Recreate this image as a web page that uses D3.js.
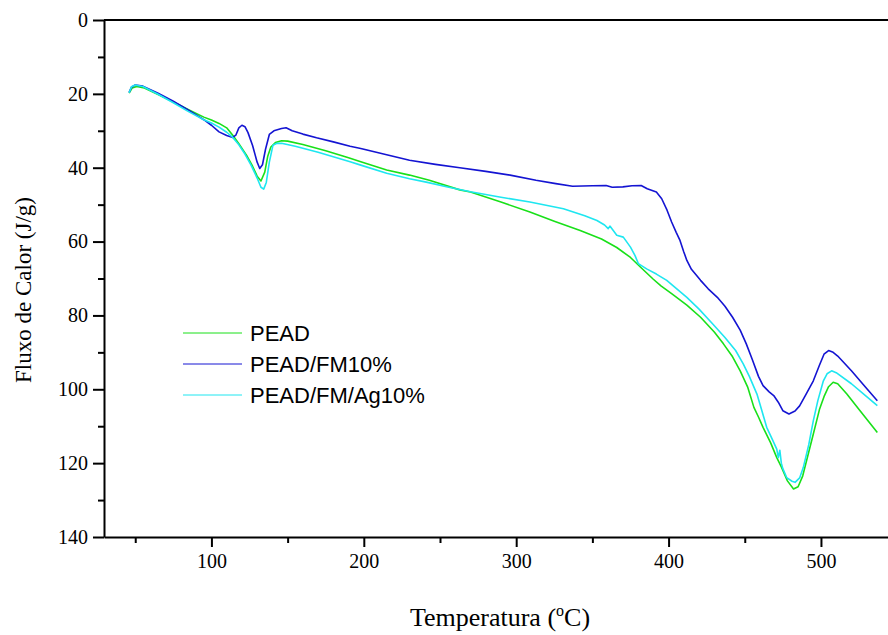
<!DOCTYPE html>
<html>
<head>
<meta charset="utf-8">
<script src="https://cdn.jsdelivr.net/npm/d3@7"></script>
<style>
  body { margin: 0; background: #fff; }
  svg { display: block; }
</style>
</head>
<body>
<svg id="chart" width="888" height="635"></svg>
<script>
// [temperature °C, heat flow J/g]
const peadData = [
  [46,19.8],[48,18.4],[51,18.0],[56,18.4],[65,20.2],[75,22.2],[85,24.3],[95,26.3],[100,27.1],
  [105,28.0],[110,29.2],[114,31.2],[118,33.5],[123,36.6],[127,39.6],[130,42.3],[132.5,43.6],
  [135,41.2],[137,36.8],[139,34.4],[142,33.2],[146,32.7],[150,32.8],[160,33.7],[175,35.4],
  [190,37.3],[198,38.4],[215,40.6],[230,42.0],[243,43.4],[263,46.0],[270,46.6],[290,49.3],
  [309,52.0],[325,54.5],[342,57.0],[356,59.3],[366,61.6],[375,64.3],[382,67.1],[390,70.2],
  [395,72.0],[402,74.1],[412,77.2],[421,80.5],[430,84.5],[436,87.7],[442,91.2],[447,95.0],
  [452,99.5],[456,104.9],[459,107.5],[462,110.3],[467,114.5],[471,118.5],[474,121.0],
  [478,124.8],[482,127.0],[485,126.4],[488,123.5],[492,117.0],[495,112.1],[499,105.5],
  [502,102.0],[505,99.3],[508,98.1],[511,98.5],[517,101.3],[525,105.5],[537,111.7]
];

const peadFmData = [
  [46,19.6],[47.5,18.2],[50,17.6],[55,17.9],[65,19.8],[75,22.0],[85,24.4],[95,27.0],[100,28.5],
  [105,30.3],[110,31.3],[114,31.8],[116,31.2],[118,29.2],[120,28.5],[122,28.9],[124,30.5],
  [127,34.0],[130,38.5],[131.7,40.2],[133.5,39.2],[135.5,35.0],[138,31.0],[141,30.0],[146,29.4],
  [149,29.2],[153,30.0],[160,30.9],[169,31.9],[180,33.0],[191,34.2],[198,34.8],[215,36.5],
  [230,38.0],[247,39.1],[263,40.0],[280,41.0],[296,42.0],[313,43.4],[326,44.3],[337,45.0],
  [350,44.9],[359,44.8],[363,45.3],[370,45.2],[376,44.9],[382,44.8],[386,45.7],[392,46.6],
  [395.5,48.4],[399,51.5],[402,54.7],[405,57.5],[407.5,59.7],[410,62.8],[412,65.1],[415,67.5],
  [421,70.5],[426,72.8],[432,75.1],[437,77.5],[442,80.5],[447,84.0],[451,87.7],[455,92.0],
  [459,96.5],[462,99.0],[466,100.7],[469,101.7],[472,103.5],[475,105.8],[479,106.7],[483,105.9],
  [486,104.5],[490,101.5],[495,97.7],[499,93.5],[502,90.5],[505,89.5],[508,90.0],[511,91.0],
  [520,95.0],[530,99.8],[537,103.1]
];

const peadFmAgData = [
  [46,19.7],[47.5,18.1],[50,17.6],[55,18.0],[65,20.1],[75,22.4],[85,24.8],[95,27.0],[100,27.9],
  [105,29.0],[110,30.4],[114,31.8],[118,33.8],[122,36.3],[126,39.3],[130,42.8],[132.5,45.3],
  [134.3,45.8],[136,44.0],[138,38.5],[140.4,33.9],[143,33.4],[146,33.4],[155,34.2],[170,35.8],
  [191,38.4],[198,39.3],[215,41.5],[230,43.0],[241,43.9],[255,45.2],[270,46.5],[290,48.0],
  [309,49.3],[331,51.1],[345,53.0],[353,54.3],[358,55.5],[360.4,56.5],[361.5,55.8],[363.7,57.0],
  [366,58.3],[370.3,58.8],[375,61.5],[378,63.8],[380.2,66.0],[383,66.7],[385.6,67.4],[392,68.8],
  [398.8,70.5],[405,72.7],[412,75.1],[420,78.3],[429,82.3],[437,86.0],[444,89.5],[449,93.1],
  [453,96.5],[458,101.3],[461,105.5],[464.4,110.3],[468,113.5],[471,116.2],[472,118.5],[473,116.5],
  [474,120.0],[475,121.5],[477.5,123.9],[481,124.9],[483,125.2],[486,124.0],[488.4,121.2],
  [492,115.0],[495,108.5],[498,103.0],[501.6,97.7],[504,95.8],[507,95.0],[510,95.5],[520,98.5],
  [530,102.0],[537,104.4]
];

const seriesNames = ["PEAD", "PEAD/FM10%", "PEAD/FM/Ag10%"];
const seriesColors = ["#19e019", "#1414d2", "#1ee6f0"];
const xTicks = [100, 200, 300, 400, 500];
const xMinorTicks = [50, 150, 250, 350, 450];
const yTicks = [0, 20, 40, 60, 80, 100, 120, 140];
const yMinorTicks = [10, 30, 50, 70, 90, 110, 130];

const svg = d3.select("#chart");
const plotLeft = 104, plotRight = 888, plotTop = 20, plotBottom = 537;

const x = d3.scaleLinear().domain([29.5, 544]).range([plotLeft, plotRight]);
const y = d3.scaleLinear().domain([0, 140]).range([plotTop, plotBottom]);

const serif = "'Liberation Serif', 'Times New Roman', serif";
const sans = "'Liberation Sans', Arial, sans-serif";

// curves
const line = d3.line()
  .x(function(d) { return x(d[0]); })
  .y(function(d) { return y(d[1]); });

[peadData, peadFmData, peadFmAgData].forEach(function(data, i) {
  svg.append("path")
    .datum(data)
    .attr("fill", "none")
    .attr("stroke", seriesColors[i])
    .attr("stroke-width", 1.6)
    .attr("stroke-linejoin", "round")
    .attr("d", line);
});

// top frame line
svg.append("line")
  .attr("x1", plotLeft).attr("x2", plotRight)
  .attr("y1", plotTop).attr("y2", plotTop)
  .attr("stroke", "#000").attr("stroke-width", 2);

// bottom axis
svg.append("g")
  .attr("transform", `translate(0,${plotBottom})`)
  .call(d3.axisBottom(x).tickValues(xTicks).tickSize(10).tickPadding(7).tickSizeOuter(0));
svg.append("g")
  .attr("transform", `translate(0,${plotBottom})`)
  .call(d3.axisBottom(x).tickValues(xMinorTicks).tickSize(6).tickFormat("").tickSizeOuter(0))
  .select(".domain").remove();

// left axis
svg.append("g")
  .attr("transform", `translate(${plotLeft},0)`)
  .call(d3.axisLeft(y).tickValues(yTicks).tickSize(11).tickPadding(5).tickSizeOuter(0));
svg.append("g")
  .attr("transform", `translate(${plotLeft},0)`)
  .call(d3.axisLeft(y).tickValues(yMinorTicks).tickSize(6).tickFormat("").tickSizeOuter(0))
  .select(".domain").remove();

svg.selectAll(".domain, .tick line")
  .attr("stroke", "#000")
  .attr("stroke-width", 2);

svg.selectAll(".tick text")
  .style("font-family", serif)
  .style("font-size", "20px")
  .attr("fill", "#000");

// axis titles
svg.append("text")
  .attr("transform", "translate(31,290) rotate(-90)")
  .attr("text-anchor", "middle")
  .style("font-family", serif)
  .style("font-size", "23px")
  .text("Fluxo de Calor (J/g)");

const xt = svg.append("text")
  .attr("x", 500)
  .attr("y", 626)
  .attr("text-anchor", "middle")
  .style("font-family", serif)
  .style("font-size", "26px");
xt.append("tspan").text("Temperatura (");
xt.append("tspan").attr("dy", -10).style("font-size", "16px").text("o");
xt.append("tspan").attr("dy", 10).text("C)");

// legend
const legendY = [333, 364, 395];
const legend = svg.selectAll("g.legend-item")
  .data(seriesNames)
  .enter()
  .append("g")
  .attr("class", "legend-item")
  .attr("transform", function(d, i) { return `translate(183,${legendY[i]})`; });

legend.append("line")
  .attr("x1", 0).attr("x2", 59)
  .attr("stroke", function(d, i) { return seriesColors[i]; })
  .attr("stroke-width", 1);

legend.append("text")
  .attr("x", 67)
  .attr("dy", "0.36em")
  .style("font-family", sans)
  .style("font-size", "22px")
  .text(function(d) { return d; });
</script>
</body>
</html>
